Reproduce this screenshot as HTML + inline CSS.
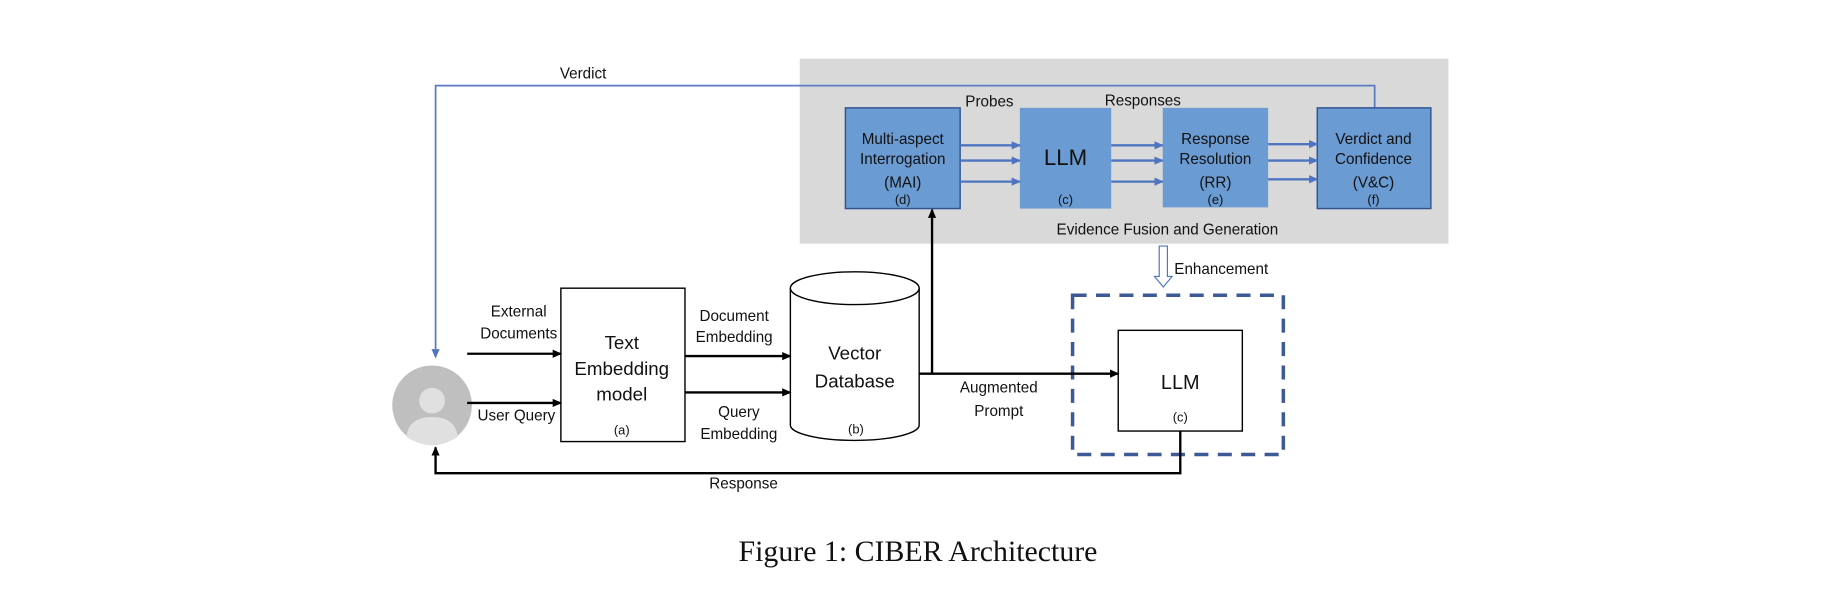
<!DOCTYPE html>
<html><head><meta charset="utf-8"><style>
html,body{margin:0;padding:0;background:#fff;}
svg{display:block;}
text{font-family:"Liberation Sans",sans-serif;fill:#111;}
</style></head><body>
<svg width="1836" height="615" viewBox="0 0 1568 525" xmlns="http://www.w3.org/2000/svg">
<defs>
<marker id="ab" markerWidth="8" markerHeight="8" refX="7" refY="4" orient="auto" markerUnits="userSpaceOnUse"><path d="M0,0.5 L8,4 L0,7.5 z" fill="#000"/></marker>
<marker id="au" markerWidth="8" markerHeight="8" refX="7" refY="4" orient="auto" markerUnits="userSpaceOnUse"><path d="M0,0.5 L8,4 L0,7.5 z" fill="#4f74c0"/></marker>
</defs>
<rect x="683" y="50" width="554" height="158" fill="#d9d9d9"/>
<polyline points="1174,92 1174,73 372,73 372,305" fill="none" stroke="#5b7cc4" stroke-width="1.5" marker-end="url(#au)"/>
<text x="498" y="67" font-size="13" text-anchor="middle">Verdict</text>
<rect x="722" y="92" width="98" height="86" fill="#6a9bd2" stroke="#2f528f" stroke-width="1.2"/>
<rect x="871" y="92" width="78" height="86" fill="#6a9bd2"/>
<rect x="993" y="92" width="90" height="85" fill="#6a9bd2"/>
<rect x="1125" y="92" width="97" height="86" fill="#6a9bd2" stroke="#2f528f" stroke-width="1.2"/>
<g font-size="13" text-anchor="middle">
<text x="771" y="123">Multi-aspect</text><text x="771" y="140">Interrogation</text><text x="771" y="160">(MAI)</text><text x="771" y="174" font-size="11">(d)</text>
<text x="910" y="141" font-size="19">LLM</text><text x="910" y="174" font-size="11">(c)</text>
<text x="1038" y="123">Response</text><text x="1038" y="140">Resolution</text><text x="1038" y="160">(RR)</text><text x="1038" y="174" font-size="11">(e)</text>
<text x="1173" y="123">Verdict and</text><text x="1173" y="140">Confidence</text><text x="1173" y="160">(V&amp;C)</text><text x="1173" y="174" font-size="11">(f)</text>
<text x="845" y="91">Probes</text><text x="976" y="90">Responses</text>
<text x="997" y="200">Evidence Fusion and Generation</text>
</g>
<g stroke="#4f74c0" stroke-width="2" marker-end="url(#au)">
<line x1="820" y1="124" x2="871" y2="124"/><line x1="820" y1="137" x2="871" y2="137"/><line x1="820" y1="155" x2="871" y2="155"/>
<line x1="949" y1="124" x2="993" y2="124"/><line x1="949" y1="137" x2="993" y2="137"/><line x1="949" y1="155" x2="993" y2="155"/>
<line x1="1083" y1="123" x2="1125" y2="123"/><line x1="1083" y1="137" x2="1125" y2="137"/><line x1="1083" y1="153" x2="1125" y2="153"/>
</g>
<path d="M990,210 L997,210 L997,236 L1001,236 L993.5,245 L986,236 L990,236 Z" fill="#fff" stroke="#4f74c0" stroke-width="1"/>
<text x="1043" y="234" font-size="13" text-anchor="middle">Enhancement</text>
<rect x="916" y="252" width="180" height="136" fill="none" stroke="#3d5a96" stroke-width="3" stroke-dasharray="12,8"/>
<rect x="955" y="282" width="106" height="86" fill="#fff" stroke="#000" stroke-width="1.2"/>
<text x="1008" y="332" font-size="17" text-anchor="middle">LLM</text>
<text x="1008" y="360" font-size="11" text-anchor="middle">(c)</text>
<circle cx="369" cy="346" r="34" fill="#bfbfbf"/>
<circle cx="369" cy="342" r="11" fill="#e0e0e0"/>
<path d="M347,373 Q349,356 369,356 Q389,356 391,373 Q380,380 369,380 Q358,380 347,373 Z" fill="#e0e0e0"/>
<rect x="479" y="246" width="106" height="131" fill="#fff" stroke="#000" stroke-width="1.2"/>
<g text-anchor="middle">
<text x="531" y="298" font-size="16">Text</text><text x="531" y="320" font-size="16">Embedding</text><text x="531" y="342" font-size="16">model</text><text x="531" y="371" font-size="11">(a)</text>
</g>
<path d="M675,246 L675,363 A55,13 0 0 0 785,363 L785,246" fill="#fff" stroke="#000" stroke-width="1.2"/>
<ellipse cx="730" cy="246" rx="55" ry="14" fill="#fff" stroke="#000" stroke-width="1.2"/>
<g text-anchor="middle">
<text x="730" y="307" font-size="16">Vector</text><text x="730" y="331" font-size="16">Database</text><text x="731" y="370" font-size="11">(b)</text>
</g>
<g stroke="#000" stroke-width="2" fill="none" marker-end="url(#ab)">
<line x1="399" y1="302" x2="479" y2="302"/>
<line x1="399" y1="344" x2="479" y2="344"/>
<line x1="585" y1="304" x2="675" y2="304"/>
<line x1="585" y1="335" x2="675" y2="335"/>
<line x1="785" y1="319" x2="955" y2="319"/>
<line x1="796" y1="319" x2="796" y2="179"/>
<polyline points="1008,368 1008,404 372,404 372,382"/>
</g>
<g font-size="13" text-anchor="middle">
<text x="443" y="270">External</text><text x="443" y="289">Documents</text>
<text x="441" y="359">User Query</text>
<text x="627" y="274">Document</text><text x="627" y="292">Embedding</text>
<text x="631" y="356">Query</text><text x="631" y="375">Embedding</text>
<text x="853" y="335">Augmented</text><text x="853" y="355">Prompt</text>
<text x="635" y="417">Response</text>
</g>
<text x="784" y="479" font-size="25.5" text-anchor="middle" style="font-family:'Liberation Serif',serif">Figure 1: CIBER Architecture</text>
</svg>
</body></html>
